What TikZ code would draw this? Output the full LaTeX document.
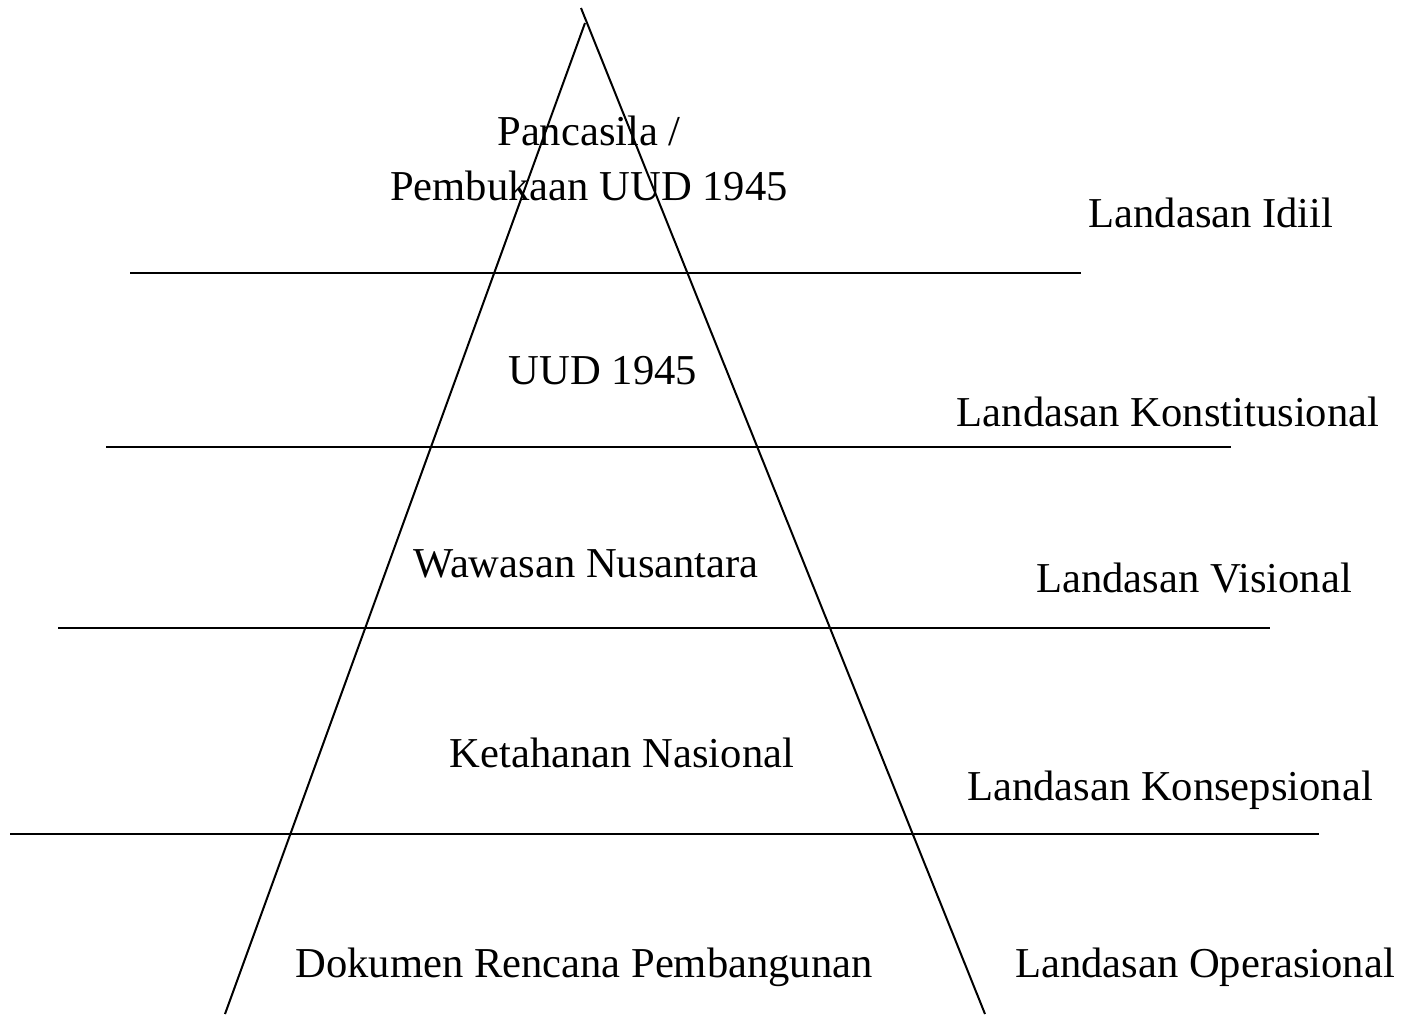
\documentclass[tikz,border=0pt]{standalone}
\usepackage{fontspec}
\setmainfont{Liberation Serif}

\begin{document}
\begin{tikzpicture}[x=0.5pt,y=-0.5pt,
  lvl/.style={anchor=base,inner sep=0pt,font=\fontsize{21.3}{25}\selectfont},
  garis/.style={line width=1pt}]
  \useasboundingbox (0,0) rectangle (1406,1014);
  % pyramid
  \coordinate (puncakL) at (585,23);
  \coordinate (puncakR) at (581,8);
  \coordinate (kakiL) at (225,1014);
  \coordinate (kakiR) at (985,1014);
  \draw[garis] (puncakL) -- (kakiL);
  \draw[garis] (puncakR) -- (kakiR);
  % separators
  \coordinate (a1) at (130,273);  \coordinate (b1) at (1081,273);
  \coordinate (a2) at (106,447);  \coordinate (b2) at (1231,447);
  \coordinate (a3) at (58,628);   \coordinate (b3) at (1270,628);
  \coordinate (a4) at (10,834);   \coordinate (b4) at (1319,834);
  \foreach \i in {1,...,4}
    \draw[line width=1.2pt] (a\i) -- (b\i);
  % levels
  \node[lvl] (pancasila) at (589,145) {Pancasila /};
  \node[lvl] (pembukaan) at (589,200) {Pembukaan UUD 1945};
  \node[lvl] (uud) at (603,384) {UUD 1945};
  \node[lvl] (wawasan) at (586,577) {Wawasan Nusantara};
  \node[lvl] (tannas) at (622,767) {Ketahanan Nasional};
  \node[lvl] (dokumen) at (584,977) {Dokumen Rencana Pembangunan};
  % landasan
  \node[lvl] (idiil) at (1211,227) {Landasan Idiil};
  \node[lvl] (konstitusi) at (1168,426) {Landasan Konstitusional};
  \node[lvl] (visi) at (1194,592) {Landasan Visional};
  \node[lvl] (konsep) at (1170,800) {Landasan Konsepsional};
  \node[lvl] (operasi) at (1205,977) {Landasan Operasional};
\end{tikzpicture}
\end{document}
